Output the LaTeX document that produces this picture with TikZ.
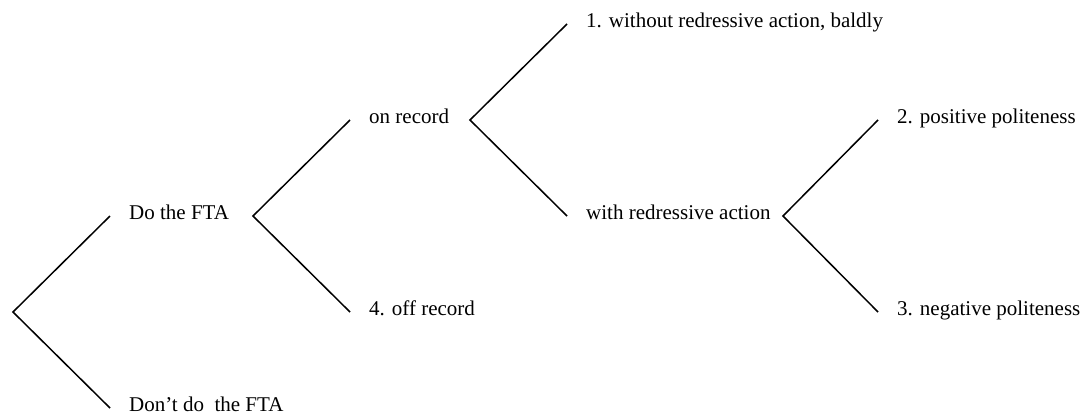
\documentclass[tikz,border=0pt]{standalone}
\usepackage{fontspec}
\setmainfont{Liberation Serif}

\begin{document}
\begin{tikzpicture}[x=1pt, y=-1pt,
    branch/.style={black, line width=1.5pt},
    lbl/.style={anchor=west, inner xsep=19pt, inner ysep=0pt, text height=0.66em, text depth=0pt, font=\fontsize{21}{25}\selectfont}]
    \useasboundingbox (0,0) rectangle (1084,416);

    % --- Root: do the FTA or not ---
    \coordinate (Root) at (13,312);
    \node[lbl] (DoFTA) at (110,216) {Do the FTA};
    \node[lbl] (DontFTA) at (110,408) {Don’t do\ \ the FTA};
    \draw[branch] (DoFTA.west) -- (Root) -- (DontFTA.west);

    % --- On record / off record ---
    \coordinate (SplitRecord) at (253,216);
    \node[lbl] (OnRec) at (350,120) {on record};
    \node[lbl] (OffRec) at (350,312) {4. off record};
    \draw[branch] (OnRec.west) -- (SplitRecord) -- (OffRec.west);

    % --- Baldly / with redress ---
    \coordinate (SplitRedress) at (470,120);
    \node[lbl] (Baldly) at (567,24) {1. without redressive action, baldly};
    \node[lbl] (WithRed) at (567,216) {with redressive action};
    \draw[branch] (Baldly.west) -- (SplitRedress) -- (WithRed.west);

    % --- Positive / negative politeness ---
    \coordinate (SplitPolite) at (783,216);
    \node[lbl] (PosPol) at (878,120) {2. positive politeness};
    \node[lbl] (NegPol) at (878,312) {3. negative politeness};
    \draw[branch] (PosPol.west) -- (SplitPolite) -- (NegPol.west);

\end{tikzpicture}
\end{document}
